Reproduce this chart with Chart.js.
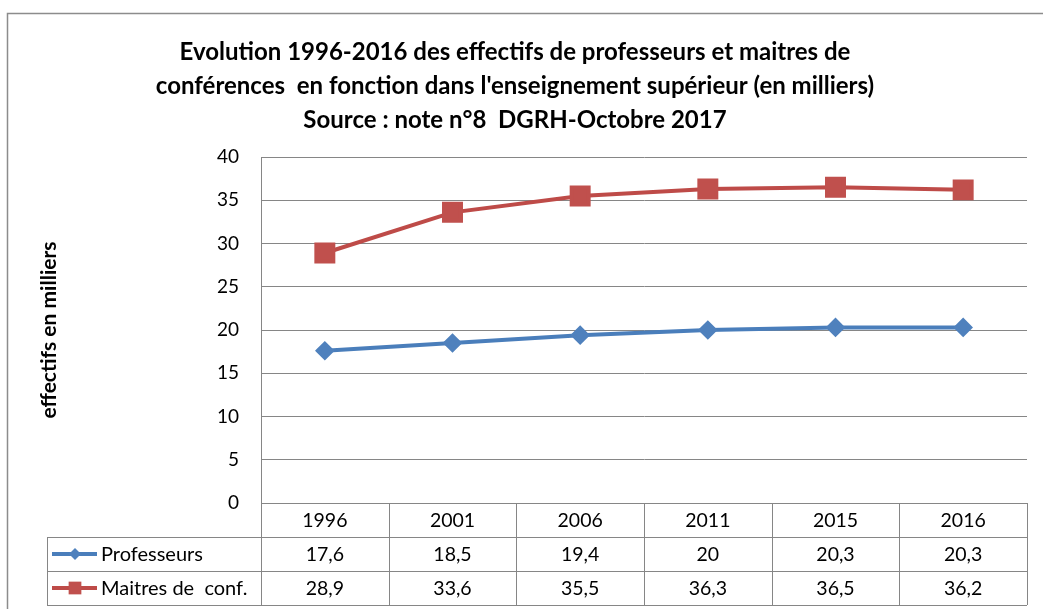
<!DOCTYPE html>
<html>
<head>
<meta charset="utf-8">
<script src="https://cdn.jsdelivr.net/npm/chart.js@4/dist/chart.umd.min.js"></script>
<style>
    html, body { margin: 0; padding: 0; background: #fff; }
    #cadre { width: 1043px; height: 609px; position: relative; }
</style>
</head>
<body>
<div id="cadre"><canvas id="graphique" width="1043" height="609"></canvas></div>
<script>
let annees = ['1996', '2001', '2006', '2011', '2015', '2016'];
let professeurs = [17.6, 18.5, 19.4, 20, 20.3, 20.3];
let maitres = [28.9, 33.6, 35.5, 36.3, 36.5, 36.2];
let noms = ['Professeurs', 'Maitres de  conf.'];

let bleu = '#4A7EBB';
let rouge = '#BE4B48';
let gris = '#868686';
let police = 'Lato, "Open Sans", sans-serif';

// virgule à la française
function virgule(v) {
    return String(v).replace('.', ',');
}

// cadre gris autour du graphique
let cadre = {
    id: 'cadre',
    beforeDraw(chart) {
        let ctx = chart.ctx;
        ctx.save();
        ctx.strokeStyle = '#8c8c8c';
        ctx.lineWidth = 1.5;
        ctx.beginPath();
        ctx.moveTo(7.5, 609);
        ctx.lineTo(7.5, 13.5);
        ctx.lineTo(1043, 13.5);
        ctx.stroke();
        ctx.restore();
    }
};

// tableau de données sous l'axe
let tableau = {
    id: 'tableau',
    afterDraw(chart) {
        let ctx = chart.ctx;
        let a = chart.chartArea;
        let x = chart.scales.x;
        let larg = a.width / annees.length;
        let haut = [a.bottom, a.bottom + 34, a.bottom + 68, a.bottom + 102];
        let gauche = 47;

        ctx.save();
        ctx.strokeStyle = gris;
        ctx.lineWidth = 1;
        ctx.beginPath();
        // lignes horizontales
        ctx.moveTo(a.left, haut[0] + 0.5);
        ctx.lineTo(a.right, haut[0] + 0.5);
        for (let r = 1; r < 4; r++) {
            ctx.moveTo(gauche, haut[r] + 0.5);
            ctx.lineTo(a.right, haut[r] + 0.5);
        }
        // lignes verticales
        ctx.moveTo(gauche + 0.5, haut[1]);
        ctx.lineTo(gauche + 0.5, haut[3]);
        ctx.moveTo(Math.round(a.left) + 0.5, a.top);
        ctx.lineTo(Math.round(a.left) + 0.5, haut[3]);
        for (let i = 1; i <= annees.length; i++) {
            let xx = Math.round(a.left + i * larg) + 0.5;
            ctx.moveTo(xx, haut[0]);
            ctx.lineTo(xx, haut[3]);
        }
        ctx.stroke();

        ctx.fillStyle = '#000';
        ctx.font = '19.5px ' + police;
        ctx.textAlign = 'center';
        ctx.textBaseline = 'middle';
        let series = [professeurs, maitres];
        for (let i = 0; i < annees.length; i++) {
            let cx = x.getPixelForValue(i);
            ctx.fillText(annees[i], cx, (haut[0] + haut[1]) / 2 + 1);
            for (let s = 0; s < series.length; s++) {
                ctx.fillText(virgule(series[s][i]), cx, (haut[s + 1] + haut[s + 2]) / 2 + 1);
            }
        }

        // légende dans la première colonne
        chart.data.datasets.forEach(function (d, s) {
            let cy = (haut[s + 1] + haut[s + 2]) / 2;
            ctx.strokeStyle = d.borderColor;
            ctx.lineWidth = 4;
            ctx.beginPath();
            ctx.moveTo(52, cy);
            ctx.lineTo(97, cy);
            ctx.stroke();
            ctx.fillStyle = d.pointBackgroundColor;
            Chart.helpers.drawPoint(ctx, {
                pointStyle: d.pointStyle,
                radius: s === 0 ? 6 : 9,
                rotation: 0,
                borderWidth: 0
            }, 75, cy);
            ctx.fillStyle = '#000';
            ctx.textAlign = 'left';
            ctx.font = '20px ' + police;
            ctx.fillText(noms[s], 101, cy + 1);
        });
        ctx.restore();
    }
};

let graphique = new Chart(document.getElementById('graphique'), {
    type: 'line',
    data: {
        labels: annees,
        datasets: [
            {
                label: noms[0],
                data: professeurs,
                borderColor: bleu,
                backgroundColor: '#4F81BD',
                pointBackgroundColor: '#4F81BD',
                pointBorderColor: '#4F81BD',
                pointStyle: 'rectRot',
                pointRadius: 7,
                pointHoverRadius: 7,
                borderWidth: 4,
                tension: 0
            },
            {
                label: noms[1],
                data: maitres,
                borderColor: rouge,
                backgroundColor: '#C0504D',
                pointBackgroundColor: '#C0504D',
                pointBorderColor: '#C0504D',
                pointStyle: 'rect',
                pointRadius: 12,
                pointHoverRadius: 12,
                borderWidth: 4,
                tension: 0
            }
        ]
    },
    options: {
        responsive: false,
        animation: false,
        layout: { padding: { left: 0, right: 13, top: 0, bottom: 106 } },
        plugins: {
            legend: { display: false },
            tooltip: { enabled: false },
            title: {
                display: true,
                text: [
                    'Evolution 1996-2016 des effectifs de professeurs et maitres de',
                    "conférences  en fonction dans l'enseignement supérieur (en milliers)",
                    'Source : note n°8  DGRH-Octobre 2017'
                ],
                color: '#000',
                font: { family: police, size: 24, weight: 'bold', lineHeight: 34 / 24 },
                padding: { top: 35, bottom: 20 }
            }
        },
        scales: {
            x: {
                type: 'category',
                offset: true,
                display: false
            },
            y: {
                min: 0,
                max: 40,
                ticks: {
                    stepSize: 5,
                    color: '#000',
                    padding: 22,
                    font: { family: police, size: 19 }
                },
                grid: { color: gris, drawTicks: false },
                border: { color: gris },
                title: {
                    display: true,
                    text: 'effectifs en milliers',
                    color: '#000',
                    font: { family: police, size: 21, weight: 'bold' },
                    padding: { top: 37, bottom: 0 }
                },
                afterFit(scale) {
                    scale.width = 261;
                }
            }
        }
    },
    plugins: [cadre, tableau]
});
</script>
</body>
</html>
